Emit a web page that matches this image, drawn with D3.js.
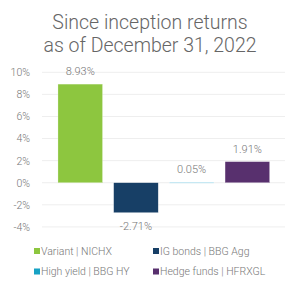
<!DOCTYPE html>
<html><head><meta charset="utf-8">
<script src="https://cdn.jsdelivr.net/npm/d3@7"></script>
<style>body{margin:0;background:#fff}</style>
</head><body><div id="chart"></div>
<script>
const categories = ["Variant | NICHX", "IG bonds | BBG Agg", "High yield | BBG HY", "Hedge funds | HFRXGL"];
const values = [8.93, -2.71, 0.05, 1.91];
const valueLabels = ["8.93%", "-2.71%", "0.05%", "1.91%"];
const barColors = ["#8dc63f", "#173f66", "#a6dcef", "#58306e"];
const legendColors = ["#8dc63f", "#173f66", "#17a2c4", "#58306e"];
const yTicks = [-4, -2, 0, 2, 4, 6, 8, 10];
const titleLines = ["Since inception returns", "as of December 31, 2022"];

const W = 300, H = 289;
const svg = d3.select("#chart").append("svg").attr("width", W).attr("height", H)
  .style("font-family", "Roboto, sans-serif");

const y = d3.scaleLinear().domain([-4, 10]).range([226.9, 72.3]);
const x = d3.scaleBand().domain(categories).range([52.4, 275.2]).paddingInner(0.2).paddingOuter(0.1);

svg.selectAll("text.title").data(titleLines).join("text")
  .attr("x", 150).attr("y", (d, i) => 29 + i * 23)
  .attr("text-anchor", "middle").attr("fill", "#666")
  .attr("font-size", 19.5).attr("font-weight", 300).text(d => d);

const yAxis = d3.axisLeft(y).tickValues(yTicks).tickFormat(d => d + "%").tickSize(0).tickPadding(0);
const g = svg.append("g").attr("transform", "translate(30,0)").call(yAxis);
g.select(".domain").remove();
g.selectAll("text").attr("fill", "#777").attr("font-size", 10.5).attr("font-family", "Roboto, sans-serif").attr("font-weight", 300);

svg.selectAll("line.grid").data(yTicks).join("line")
  .attr("x1", 42).attr("x2", 285)
  .attr("y1", d => y(d)).attr("y2", d => y(d))
  .attr("stroke", "#eeeeee").attr("stroke-width", 1);

svg.selectAll("rect.bar").data(values).join("rect")
  .attr("x", (d, i) => x(categories[i]))
  .attr("width", x.bandwidth())
  .attr("y", d => y(Math.max(0, d)))
  .attr("height", d => Math.max(1, Math.abs(y(d) - y(0))))
  .attr("fill", (d, i) => barColors[i])
  .attr("stroke", "#fff").attr("stroke-opacity", 0.5).attr("stroke-width", 0.5);

svg.selectAll("text.vl").data(values).join("text")
  .attr("x", (d, i) => x(categories[i]) + x.bandwidth() / 2)
  .attr("y", d => d >= 0 ? y(d) - 9 : y(d) + 17)
  .attr("text-anchor", "middle").attr("fill", "#777")
  .attr("font-size", 11).attr("font-weight", 300)
  .text((d, i) => valueLabels[i]);

const lg = svg.selectAll("g.lg").data(categories).join("g")
  .attr("transform", (d, i) => `translate(${i % 2 === 0 ? 34 : 153},${i < 2 ? 251 : 271.5})`);
lg.append("rect").attr("x", 0).attr("y", -3).attr("width", 6).attr("height", 6)
  .attr("fill", (d, i) => legendColors[i]);
lg.append("text").attr("x", 7).attr("y", 3.8).attr("fill", "#777")
  .attr("font-size", 10.5).attr("font-weight", 300).text(d => d);
</script></body></html>
